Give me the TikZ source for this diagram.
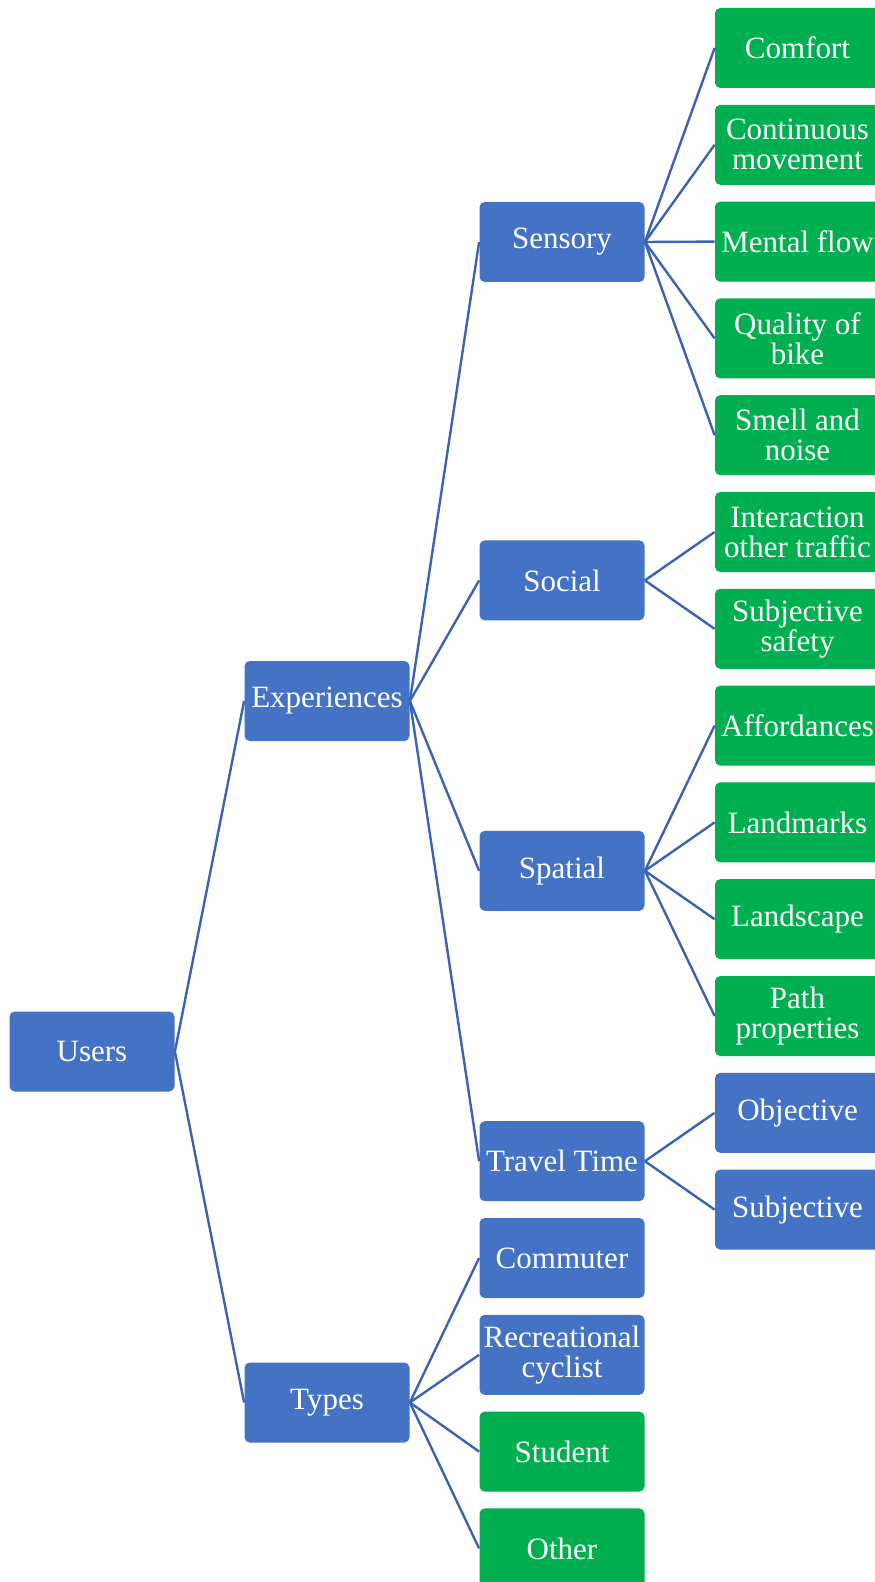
\documentclass[tikz,border=0pt]{standalone}
\usepackage{fontspec}
\setmainfont{Liberation Serif}
\definecolor{boxblue}{HTML}{4472C4}
\definecolor{boxgreen}{HTML}{00B050}
\definecolor{linkblue}{HTML}{3B63B3}
\begin{document}
\begin{tikzpicture}[x=0.5pt,y=-0.5pt,
  card/.style={rectangle, rounded corners=2.6pt, minimum width=82.5pt, minimum height=40pt,
    inner sep=0pt, text=white, align=center, font=\fontsize{15.5}{15}\selectfont},
  bluecard/.style={card, fill=boxblue},
  greencard/.style={card, fill=boxgreen},
  link/.style={draw=linkblue, line width=1.2pt}]
\useasboundingbox (0,0) rectangle (874,1582);

% level 1
\node[bluecard] (users) at (92,1051.5) {Users};
% level 2
\node[bluecard] (exp) at (327,701) {Experiences};
\node[bluecard] (types) at (327,1402.5) {Types};
% level 3
\node[bluecard] (sensory) at (562,242) {Sensory};
\node[bluecard] (social) at (562,580.4) {Social};
\node[bluecard] (spatial) at (562,870.8) {Spatial};
\node[bluecard] (travel) at (562,1161.2) {Travel Time};
\node[bluecard] (commuter) at (562,1258) {Commuter};
\node[bluecard] (recre) at (562,1354.8) {Recreational\\cyclist};
\node[greencard] (student) at (562,1451.6) {Student};
\node[greencard] (other) at (562,1548.4) {Other};
% level 4
\node[greencard] (comfort) at (797.5,48) {Comfort};
\node[greencard] (contin) at (797.5,144.8) {Continuous\\movement};
\node[greencard] (mental) at (797.5,241.6) {Mental flow};
\node[greencard] (quality) at (797.5,338.4) {Quality of\\bike};
\node[greencard] (smell) at (797.5,435.2) {Smell and\\noise};
\node[greencard] (interact) at (797.5,532) {Interaction\\other traffic};
\node[greencard] (subsafe) at (797.5,628.8) {Subjective\\safety};
\node[greencard] (afford) at (797.5,725.6) {Affordances};
\node[greencard] (landm) at (797.5,822.4) {Landmarks};
\node[greencard] (landsc) at (797.5,919.2) {Landscape};
\node[greencard] (path) at (797.5,1016) {Path\\properties};
\node[bluecard] (objective) at (797.5,1112.8) {Objective};
\node[bluecard] (subjective) at (797.5,1209.6) {Subjective};

% connectors
\foreach \p/\c in {users/exp, users/types,
    exp/sensory, exp/social, exp/spatial, exp/travel,
    types/commuter, types/recre, types/student, types/other,
    sensory/comfort, sensory/contin, sensory/mental, sensory/quality, sensory/smell,
    social/interact, social/subsafe,
    spatial/afford, spatial/landm, spatial/landsc, spatial/path,
    travel/objective, travel/subjective}
  \draw[link] (\p.east) -- (\c.west);
\end{tikzpicture}
\end{document}
